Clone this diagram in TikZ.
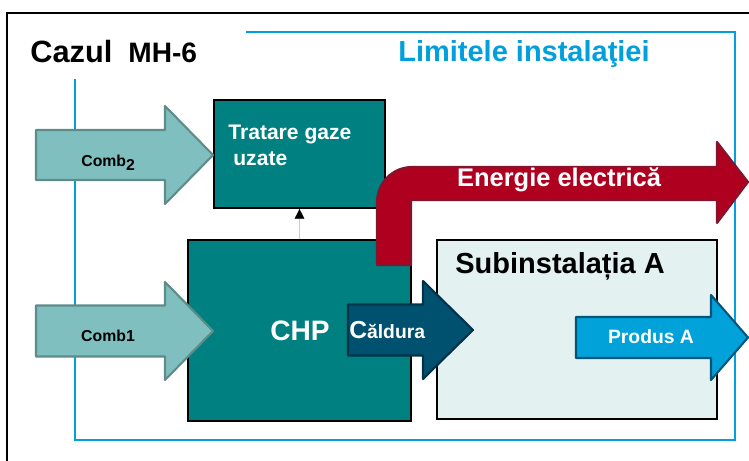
\documentclass[tikz,border=0pt]{standalone}
\usepackage{fontspec}
\setmainfont{Liberation Sans}
\usepackage{tikz}
\usetikzlibrary{arrows.meta, positioning, calc}

\definecolor{comb-fill}{RGB}{128,191,191}
\definecolor{comb-draw}{RGB}{94,140,138}
\definecolor{chp-teal}{RGB}{0,128,128}
\definecolor{sub-fill}{RGB}{228,241,241}
\definecolor{el-red}{RGB}{176,0,32}
\definecolor{el-dark}{RGB}{130,20,45}
\definecolor{heat-fill}{RGB}{0,80,112}
\definecolor{heat-draw}{RGB}{0,50,75}
\definecolor{prod-fill}{RGB}{0,162,217}
\definecolor{prod-draw}{RGB}{0,85,125}
\definecolor{lim-blue}{RGB}{0,160,220}

% horizontal block arrow: style, tail x, tip x, y, half body, half head, head length
\newcommand{\fatarrow}[7]{%
  \draw[#1] (#2,#4+#5) -- (#3-#7,#4+#5) -- (#3-#7,#4+#6) -- (#3,#4)
    -- (#3-#7,#4-#6) -- (#3-#7,#4-#5) -- (#2,#4-#5) -- cycle;}

\begin{document}
\begin{tikzpicture}[
    x=0.02cm, y=0.02cm,
    unit/.style={rectangle, draw=black, line width=1.2pt, inner sep=0pt},
    combarrow/.style={fill=comb-fill, draw=comb-draw, line width=1.2pt, line join=round},
    heatarrow/.style={fill=heat-fill, draw=heat-draw, line width=1.2pt, line join=round},
    prodarrow/.style={fill=prod-fill, draw=prod-draw, line width=1.2pt, line join=round},
    elarrow/.style={fill=el-red, draw=el-dark, line width=1.2pt, line join=round},
    whitelabel/.style={text=white, font=\bfseries, inner sep=0pt},
    blacklabel/.style={text=black, font=\bfseries, inner sep=0pt}
]
\clip (0,0) rectangle (749,460);

% outer frame and plant boundary
\draw[line width=1.7pt] (7,-10) -- (7,447) -- (760,447);
\draw[lim-blue, line width=1.2pt] (246,428) -- (735,428) -- (735,20) -- (75,20) -- (75,381);

\node[blacklabel, anchor=base west] (cazul) at (30,397) {\fontsize{17.5}{20}\selectfont Cazul};
\node[blacklabel, anchor=base west] (mh) at (128,397) {\fontsize{16}{19}\selectfont MH-6};
\node[blacklabel, text=lim-blue, anchor=base west] (limite) at (398,398) {\fontsize{16.5}{19}\selectfont Limitele instalaţiei};

% units
\node[unit, fill=chp-teal, minimum width=3.42cm, minimum height=2.16cm] (trat) at (299.5,306) {};
\node[unit, fill=chp-teal, minimum width=4.46cm, minimum height=3.62cm] (chp) at (299.5,129.5) {};
\node[unit, fill=sub-fill, minimum width=5.6cm, minimum height=3.58cm] (suba) at (577,130.5) {};

\draw[gray!40, very thin, -{Triangle[width=5.5pt, length=5.5pt, color=black]}] (chp.north) -- (trat.south);

% flows
\fatarrow{combarrow}{36}{213}{305}{25}{49}{48}
\fatarrow{combarrow}{36}{213}{129}{25.5}{49}{48}
\draw[elarrow] (377,195) -- (377,258) arc[start angle=180, end angle=90, radius=0.7cm]
  -- (717,293) -- (717,318) -- (748,278) -- (717,237) -- (717,260) -- (411,260) -- (411,195) -- cycle;
\fatarrow{heatarrow}{348}{473}{130}{25.5}{49}{50}
\fatarrow{prodarrow}{576}{748}{122.5}{20.5}{42.5}{37}

% labels
\node[whitelabel, anchor=base west, align=left] (tratlabel) at (228,320) {\fontsize{12}{14}\selectfont Tratare gaze};
\node[whitelabel, anchor=base west] (uzlabel) at (233,295) {\fontsize{12}{14}\selectfont uzate};
\node[whitelabel] (chplabel) at (300,129) {\fontsize{16}{19}\selectfont CHP};
\node[blacklabel, anchor=base west] (sublabel) at (455,187) {\fontsize{16.5}{19}\selectfont Subinstalația A};
\node[whitelabel] (ellabel) at (559,280) {\fontsize{14.5}{17}\selectfont Energie electrică};
\node[whitelabel, anchor=base west] (heatlabel) at (349,122) {\fontsize{14}{16}\selectfont C\fontsize{11}{13}\selectfont ăldura};
\node[whitelabel] (prodlabel) at (651,123) {\fontsize{11}{13}\selectfont Produs A};
\node[blacklabel] (comb1) at (108,124) {\fontsize{9}{11}\selectfont Comb1};
\node[blacklabel, anchor=base west] (comb2) at (81,294) {\fontsize{9}{11}\selectfont Comb\raisebox{-2.5pt}{2}};

\end{tikzpicture}
\end{document}
